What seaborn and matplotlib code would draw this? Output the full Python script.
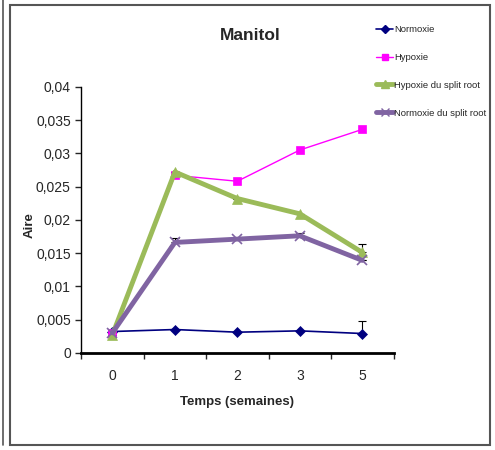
import matplotlib
matplotlib.use("Agg")
import matplotlib.pyplot as plt
import matplotlib.ticker as mticker
from matplotlib.patches import Rectangle
from matplotlib.lines import Line2D
import seaborn as sns
import pandas as pd

# Data
weeks = ["0", "1", "2", "3", "5"]
normoxie = [0.0032, 0.0035, 0.0031, 0.0033, 0.0029]
hypoxie = [0.0030, 0.0267, 0.0258, 0.0305, 0.0336]
hypoxie_split = [0.0027, 0.0272, 0.0232, 0.0209, 0.0151]
normoxie_split = [0.0030, 0.0166, 0.0171, 0.0176, 0.0139]
# upper error bars (only visible ones)
err_normoxie = [0, 0, 0, 0, 0.0019]
err_hypoxie_split = [0, 0, 0, 0, 0.0012]
err_normoxie_split = [0, 0.0007, 0, 0.0004, 0]

sns.set_style("white")
plt.rcParams["font.family"] = ["Liberation Sans", "DejaVu Sans"]

fig = plt.figure(figsize=(4.95, 4.5), dpi=100)
ax = fig.add_axes([0.164, 0.216, 0.631, 0.591])

x = list(range(len(weeks)))
series = [
    ("Normoxie", normoxie, err_normoxie, "#000080", "D", 1.2, 5),
    ("Hypoxie", hypoxie, None, "#FF00FF", "s", 1.0, 6),
    ("Hypoxie du split root", hypoxie_split, err_hypoxie_split, "#9BBB59", "^", 3.5, 7),
    ("Normoxie du split root", normoxie_split, err_normoxie_split, "#8064A2", "x", 3.5, 7),
]

handles = []
for name, vals, err, col, mk, lw, ms in series:
    df = pd.DataFrame({"x": x, "y": vals})
    if err is not None:
        ax.errorbar(x, vals, yerr=[[0] * len(vals), err], fmt="none",
                    ecolor="black", elinewidth=0.8, capsize=3, capthick=0.8, zorder=1)
    sns.lineplot(data=df, x="x", y="y", ax=ax, color=col, lw=lw,
                 marker=mk, markersize=ms, markeredgecolor=col,
                 markeredgewidth=1.2 if mk == "x" else 0.5, zorder=3)
    handles.append(Line2D([], [], color=col, lw=lw, marker=mk, markersize=ms - 1,
                          markeredgecolor=col, label=name))

ax.set_xlim(-0.5, len(weeks) - 0.5)
ax.set_ylim(0, 0.04)
ax.yaxis.set_major_locator(mticker.MultipleLocator(0.005))
ax.yaxis.set_major_formatter(mticker.FuncFormatter(
    lambda v, _: "0" if abs(v) < 1e-12 else f"{v:.3f}".rstrip("0").replace(".", ",")))
ax.xaxis.set_major_locator(mticker.FixedLocator([i - 0.5 for i in range(len(weeks) + 1)]))
ax.xaxis.set_major_formatter(mticker.NullFormatter())
ax.xaxis.set_minor_locator(mticker.FixedLocator(x))
ax.xaxis.set_minor_formatter(mticker.FixedFormatter(weeks))
ax.tick_params(axis="x", which="major", length=4, width=1, direction="out", bottom=True)
ax.tick_params(axis="x", which="minor", length=0, pad=12, labelsize=10)
ax.tick_params(axis="y", length=4, width=1, direction="out", left=True, labelsize=10)

for s in ["top", "right"]:
    ax.spines[s].set_visible(False)
for s in ["left", "bottom"]:
    ax.spines[s].set_color("black")
ax.spines["left"].set_linewidth(1.0)
ax.spines["bottom"].set_linewidth(2.0)

ax.set_xlabel("Temps (semaines)", fontsize=9.5, fontweight="bold", labelpad=9)
ax.set_ylabel("Aire", fontsize=9.5, fontweight="bold")
ax.yaxis.set_label_coords(-0.145, 0.48)
fig.text(0.505, 0.922, "Manitol", ha="center", va="center", fontsize=12.5, fontweight="bold")

fig.legend(handles=handles, loc="upper left", bbox_to_anchor=(0.752, 0.953),
           frameon=False, fontsize=6.8, handlelength=1.8, handletextpad=0.12,
           labelspacing=2.0, borderaxespad=0)

# outer frame
fig.patches.append(Rectangle((10 / 495, 5 / 450), 480 / 495, 440 / 450,
                             transform=fig.transFigure, fill=False,
                             edgecolor="#555555", lw=1.5))
fig.lines.append(Line2D([3 / 495, 3 / 495], [5 / 450, 1], transform=fig.transFigure,
                        color="#555555", lw=1.2))

fig.savefig("out.png", dpi=100)
